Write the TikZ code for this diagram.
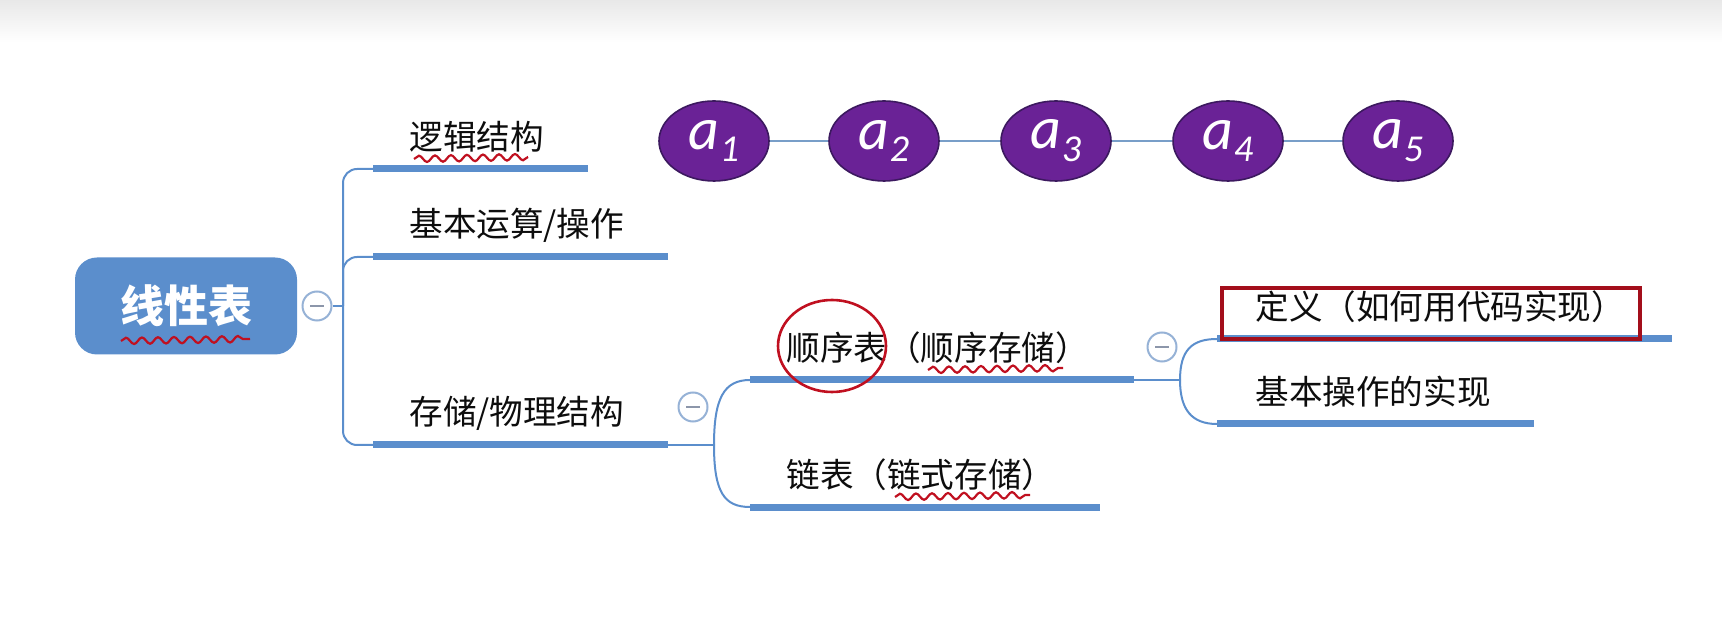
\documentclass[tikz,border=0pt]{standalone}
\usepackage{fontspec}
\setmainfont{Noto Sans CJK SC}
\newfontfamily\elemfont{Carlito}
\usetikzlibrary{shapes.geometric,decorations.pathmorphing}

\definecolor{mapblue}{RGB}{91,142,204}
\definecolor{linkblue}{RGB}{120,158,200}
\definecolor{foldedge}{RGB}{150,178,214}
\definecolor{foldminus}{RGB}{140,150,170}
\definecolor{elempurple}{RGB}{106,34,150}
\definecolor{elemedge}{RGB}{60,25,95}
\definecolor{inkred}{RGB}{192,16,32}

\newcommand{\elemtext}[1]{{\elemfont\itshape a\raisebox{-0.45ex}{\fontsize{19}{19}\selectfont #1}}}

\tikzset{
  bar/.style={mapblue, line width=3.5pt},
  branch/.style={mapblue, line width=1pt, rounded corners=7pt},
  topic/.style={anchor=west, inner sep=0pt, text=black!95, font=\fontsize{16.8}{18}\selectfont},
  root/.style={fill=mapblue, rounded corners=11pt, minimum width=111pt, minimum height=48.5pt,
    text=white, font=\fontsize{22}{24}\selectfont\bfseries},
  elem/.style={ellipse, fill=elempurple, draw=elemedge, line width=0.8pt, minimum width=55pt,
    minimum height=40pt, inner sep=0pt, text=white, font=\fontsize{30}{30}\selectfont},
  link/.style={linkblue, line width=1.2pt},
  fold/.style={circle, draw=foldedge, fill=white, line width=1pt, minimum size=14.5pt, inner sep=0pt,
    path picture={\draw[foldminus, line width=1.2pt] ([xshift=-3.5pt]path picture bounding box.center)
      -- ([xshift=3.5pt]path picture bounding box.center);}},
  scrawl/.style={inkred, line width=1.1pt, decorate, decoration={snake, amplitude=1.6pt, segment length=8pt}},
}

\begin{document}
\begin{tikzpicture}[x=0.5pt, y=-0.5pt]
    \useasboundingbox (0,0) rectangle (1722,635);
    \shade[top color=black!9, bottom color=white] (0,0) rectangle (1722,42);

    % Coordinates
    \coordinate (T0) at (343,306);
    \coordinate (B1W) at (373,169);
    \coordinate (B1E) at (588,169);
    \coordinate (B2W) at (373,257);
    \coordinate (B2E) at (668,257);
    \coordinate (B3W) at (373,445);
    \coordinate (B3E) at (668,445);
    \coordinate (S1) at (714,445);
    \coordinate (B4W) at (750,380);
    \coordinate (B4E) at (1134,380);
    \coordinate (B5W) at (750,507);
    \coordinate (B5E) at (1100,507);
    \coordinate (S2) at (1180,380);
    \coordinate (B6W) at (1217,339);
    \coordinate (B6E) at (1672,339);
    \coordinate (B7W) at (1217,424);
    \coordinate (B7E) at (1534,424);

    % Nodes
    \node[root] (root) at (186,306) {线性表};
    \node[fold] (F1) at (317,306) {};
    \node[fold] (F2) at (693,407) {};
    \node[fold] (F3) at (1162,347) {};
    \node[topic] (logic) at (409,137) {逻辑结构};
    \node[topic] (ops) at (409,225) {基本运算/操作};
    \node[topic] (store) at (409,413) {存储/物理结构};
    \node[topic] (seq) at (786,348) {顺序表（顺序存储）};
    \node[topic] (chain) at (786,475) {链表（链式存储）};
    \node[topic] (defn) at (1255,307) {定义（如何用代码实现）};
    \node[topic] (impl) at (1255,392) {基本操作的实现};
    \node[elem] (a1) at (714,141) {\elemtext{1}};
    \node[elem] (a2) at (884,141) {\elemtext{2}};
    \node[elem] (a3) at (1056,141) {\elemtext{3}};
    \node[elem] (a4) at (1228,141) {\elemtext{4}};
    \node[elem] (a5) at (1398,141) {\elemtext{5}};

    % Drawing
    \draw[branch] (F1.east) -- (T0);
    \draw[branch] (T0) |- (B1W);
    \draw[branch] (T0) |- (B2W);
    \draw[branch] (T0) |- (B3W);
    \draw[bar] (B1W) -- (B1E);
    \draw[bar] (B2W) -- (B2E);
    \draw[bar] (B3W) -- (B3E);
    \draw[branch] (B3E) -- (S1);
    \draw[branch] (S1) .. controls (714,398) and (724,380) .. (B4W);
    \draw[branch] (S1) .. controls (714,492) and (724,507) .. (B5W);
    \draw[bar] (B4W) -- (B4E);
    \draw[bar] (B5W) -- (B5E);
    \draw[branch] (B4E) -- (S2);
    \draw[branch] (S2) .. controls (1180,350) and (1192,339) .. (B6W);
    \draw[branch] (S2) .. controls (1180,410) and (1192,424) .. (B7W);
    \draw[bar] (B6W) -- (B6E);
    \draw[bar] (B7W) -- (B7E);
    \draw[link] (a1) -- (a2);
    \draw[link] (a2) -- (a3);
    \draw[link] (a3) -- (a4);
    \draw[link] (a4) -- (a5);

    % Red marks
    \draw[scrawl] (121,341) -- (250,339);
    \draw[scrawl] (414,159) -- (528,157);
    \draw[scrawl] (928,370) -- (1063,368);
    \draw[scrawl] (895,497) -- (1030,495);
    \draw[inkred, line width=1.3pt] (832,346) ellipse (27pt and 23pt);
    \draw[inkred!85!black, line width=1.8pt] (1222,288) rectangle (1640,339);
\end{tikzpicture}
\end{document}
